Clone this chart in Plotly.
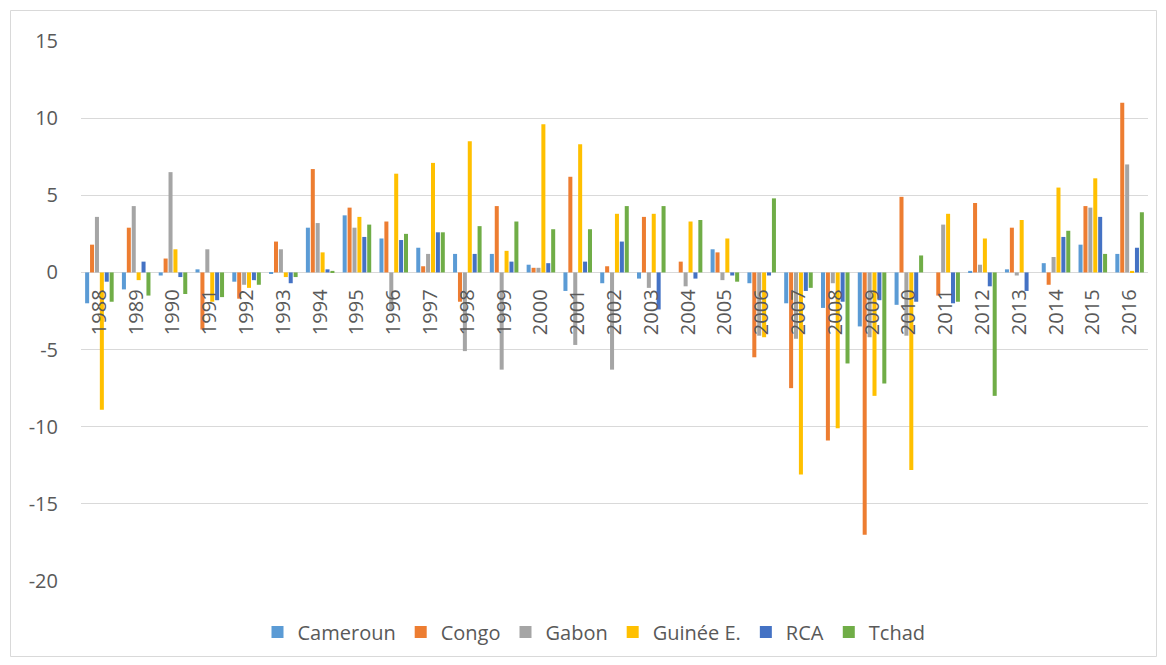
import plotly.graph_objects as go

years = [str(y) for y in range(1988, 2017)]

cameroun = [-2.0, -1.1, -0.2, 0.2, -0.6, -0.1, 2.9, 3.7, 2.2, 1.6, 1.2, 1.2, 0.5, -1.2, -0.7,
            -0.4, 0.0, 1.5, -0.7, -2.0, -2.3, -3.5, -2.1, 0.0, 0.1, 0.2, 0.6, 1.8, 1.2]
congo = [1.8, 2.9, 0.9, -3.7, -1.7, 2.0, 6.7, 4.2, 3.3, 0.4, -1.9, 4.3, 0.3, 6.2, 0.4,
         3.6, 0.7, 1.3, -5.5, -7.5, -10.9, -17.0, 4.9, -1.5, 4.5, 2.9, -0.8, 4.3, 11.0]
gabon = [3.6, 4.3, 6.5, 1.5, -0.8, 1.5, 3.2, 2.9, -2.4, 1.2, -5.1, -6.3, 0.3, -4.7, -6.3,
         -1.0, -0.9, -0.5, -4.1, -4.3, -0.7, -4.2, -4.1, 3.1, 0.5, -0.2, 1.0, 4.2, 7.0]
guinee = [-8.9, -0.5, 1.5, -1.9, -1.0, -0.3, 1.3, 3.6, 6.4, 7.1, 8.5, 1.4, 9.6, 8.3, 3.8,
          3.8, 3.3, 2.2, -4.2, -13.1, -10.1, -8.0, -12.8, 3.8, 2.2, 3.4, 5.5, 6.1, 0.1]
rca = [-0.6, 0.7, -0.3, -1.8, -0.5, -0.7, 0.2, 2.3, 2.1, 2.6, 1.2, 0.7, 0.6, 0.7, 2.0,
       -2.4, -0.4, -0.2, -0.2, -1.2, -1.9, -1.8, -1.9, -2.0, -0.9, -1.2, 2.3, 3.6, 1.6]
tchad = [-1.9, -1.5, -1.4, -1.6, -0.8, -0.3, 0.1, 3.1, 2.5, 2.6, 3.0, 3.3, 2.8, 2.8, 4.3,
         4.3, 3.4, -0.6, 4.8, -1.0, -5.9, -7.2, 1.1, -1.9, -8.0, 0.0, 2.7, 1.2, 3.9]

y_ticks = [-20, -15, -10, -5, 0, 5, 10, 15]
y_tick_labels = ["-20", "-15", "-10", "-5", "0", "5", "10", "15"]

series = [
    ("Cameroun", cameroun, "#5B9BD5"),
    ("Congo", congo, "#ED7D31"),
    ("Gabon", gabon, "#A5A5A5"),
    ("Guinée E.", guinee, "#FFC000"),
    ("RCA", rca, "#4472C4"),
    ("Tchad", tchad, "#70AD47"),
]

y_min, y_max = -20, 15
text_color = "#595959"
grid_color = "#D9D9D9"
font_family = "Open Sans"
font_size = 20

fig = go.Figure()
for name, vals, color in series:
    fig.add_trace(go.Bar(
        x=years, y=vals, name=name,
        marker=dict(color=color, line=dict(width=0)),
    ))

# plot area in pixels
L, R, T, B = 81, 18, 41, 84
W, H = 1166, 665
pw, ph = W - L - R, H - T - B


def px_to_paper_x(px):
    return (px - L) / pw


def px_to_paper_y(py):
    return (H - B - py) / ph


fig.update_layout(
    width=W, height=H,
    margin=dict(l=L, r=R, t=T, b=B),
    paper_bgcolor="white",
    plot_bgcolor="white",
    barmode="group",
    bargap=0.2,
    bargroupgap=0.18,
    font=dict(family=font_family, size=font_size, color=text_color),
    showlegend=True,
    legend=dict(
        orientation="h",
        x=px_to_paper_x(594), xanchor="center",
        y=px_to_paper_y(632), yanchor="middle",
        font=dict(family=font_family, size=font_size, color=text_color),
        itemwidth=30,
        traceorder="normal",
    ),
    xaxis=dict(
        type="category",
        anchor="free",
        position=(0 - y_min) / (y_max - y_min),
        tickangle=-90,
        ticklabelstandoff=12,
        showgrid=False,
        showline=False,
        zeroline=False,
        ticks="",
        tickfont=dict(family=font_family, size=font_size, color=text_color),
    ),
    yaxis=dict(
        range=[y_min, y_max],
        tickmode="array",
        tickvals=y_ticks,
        ticktext=y_tick_labels,
        showgrid=True,
        gridcolor=grid_color,
        gridwidth=1,
        zeroline=False,
        showline=False,
        ticks="",
        ticklabelstandoff=22,
        tickfont=dict(family=font_family, size=font_size, color=text_color),
    ),
    shapes=[dict(
        type="rect", xref="paper", yref="paper",
        x0=px_to_paper_x(10.5), x1=px_to_paper_x(1156.5),
        y0=px_to_paper_y(656.5), y1=px_to_paper_y(10.5),
        line=dict(color=grid_color, width=1),
        fillcolor="rgba(0,0,0,0)",
        layer="below",
    )],
)

fig.write_html("out.html")
